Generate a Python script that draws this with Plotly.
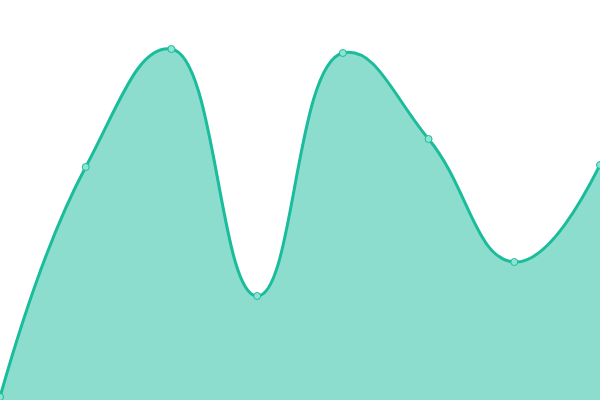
import plotly.graph_objects as go

# category positions and series values
x_idx = [0, 1, 2, 3, 4, 5, 6, 7]
values = [3, 233, 351, 104, 347, 261, 138, 235]

fig = go.Figure()

fig.add_trace(go.Scatter(
    x=x_idx, y=values,
    mode='lines+markers',
    line=dict(color='#1abc9c', width=3, shape='spline', smoothing=1.3),
    fill='tozeroy',
    fillcolor='rgba(26,188,156,0.5)',
    marker=dict(size=7, color='#8ee3d1', line=dict(color='#1abc9c', width=1)),
    cliponaxis=False,
    hoverinfo='skip',
))

fig.update_layout(
    width=600, height=400,
    margin=dict(l=0, r=0, t=0, b=0),
    paper_bgcolor='white', plot_bgcolor='white',
    showlegend=False,
    xaxis=dict(visible=False, range=[0, 7]),
    yaxis=dict(visible=False, range=[0, 400]),
)

# drop the browser's default body margin so the plot sits at the corner
fig.write_html("out.html", config={'displayModeBar': False},
               post_script="document.body.style.margin='0';document.body.style.overflow='hidden';")
